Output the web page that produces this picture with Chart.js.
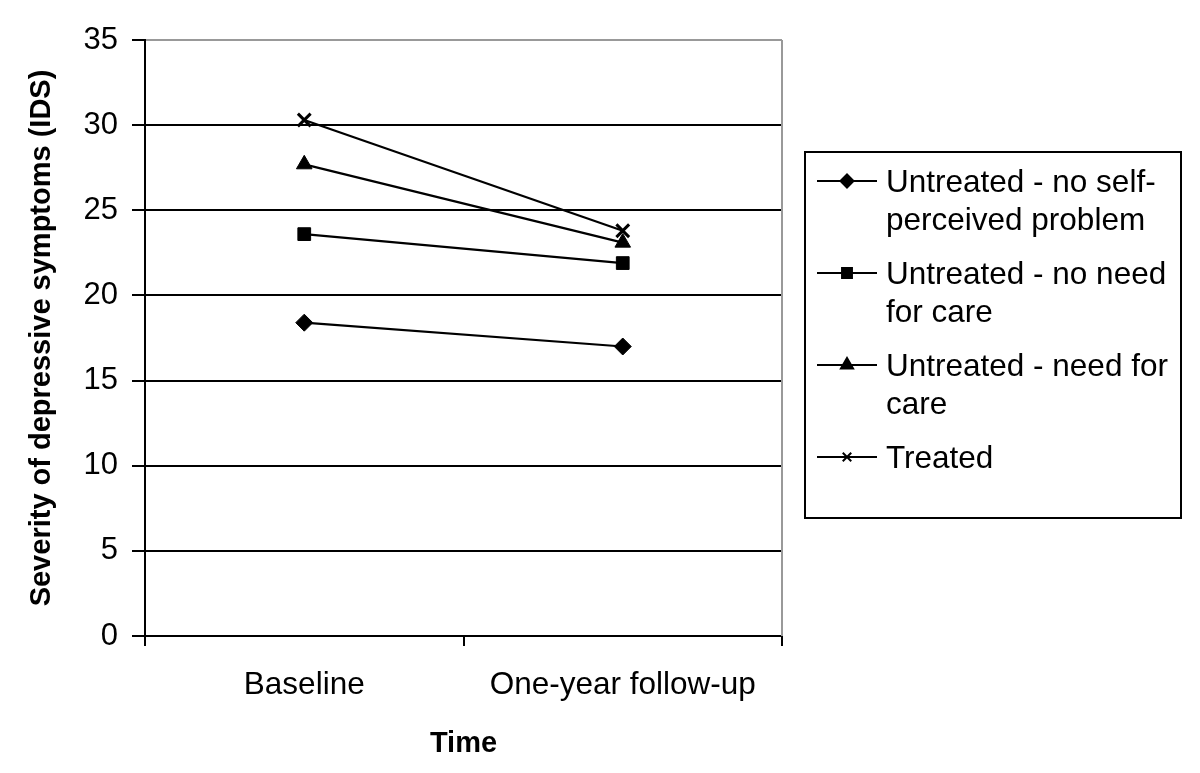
<!DOCTYPE html>
<html>
<head>
<meta charset="utf-8">
<script src="https://cdn.jsdelivr.net/npm/chart.js@4"></script>
<style>
  html, body { margin: 0; padding: 0; background: #fff; }
</style>
</head>
<body>
<canvas id="symptomChart" width="1200" height="773"></canvas>
<script>

const timepoints = ["Baseline", "One-year follow-up"];

const yTickValues = [0, 5, 10, 15, 20, 25, 30, 35];

const noSelfProblem = [18.4, 17.0];
const noNeedForCare = [23.6, 21.9];
const needForCare = [27.7, 23.1];
const treated = [30.3, 23.8];

const legendLines = [
    ["Untreated - no self-", "perceived problem"],
    ["Untreated - no need", "for care"],
    ["Untreated - need for", "care"],
    ["Treated"]
];

const FONT = "'Liberation Sans', Arial, sans-serif";


// legend in a box on the right, with wrapped labels
const boxLegend = {
    id: "boxLegend",
    afterDraw(chart) {
        const ctx = chart.ctx;
        ctx.save();

        ctx.strokeStyle = "#000";
        ctx.lineWidth = 2;
        ctx.strokeRect(805, 152, 376, 366);

        ctx.font = "31.5px " + FONT;
        ctx.textBaseline = "alphabetic";
        ctx.fillStyle = "#000";

        let y = 181;
        chart.data.datasets.forEach((ds, i) => {
            ctx.strokeStyle = "#000";
            ctx.lineWidth = 2;
            ctx.beginPath();
            ctx.moveTo(817, y);
            ctx.lineTo(877, y);
            ctx.stroke();

            Chart.helpers.drawPoint(ctx, {
                pointStyle: ds.pointStyle,
                radius: ds.legendRadius,
                borderWidth: ds.pointBorderWidth,
                rotation: 0
            }, 847, y);

            const lines = legendLines[i];
            lines.forEach((t, j) => {
                ctx.fillText(t, 886, y + 11 + j * 38);
            });
            y += lines.length * 38 + 16;
        });

        ctx.restore();
    }
};


// grey frame line on the right of the plot
const rightFrame = {
    id: "rightFrame",
    beforeDatasetsDraw(chart) {
        const { ctx, chartArea } = chart;
        ctx.save();
        ctx.strokeStyle = "#999";
        ctx.lineWidth = 2;
        ctx.beginPath();
        ctx.moveTo(chartArea.right, chartArea.top);
        ctx.lineTo(chartArea.right, chartArea.bottom);
        ctx.stroke();
        ctx.restore();
    }
};


function makeSeries(label, data, style, radius, legendRadius, pbw) {
    return {
        label: label,
        data: data,
        borderColor: "#000",
        backgroundColor: "#000",
        borderWidth: 2.2,
        pointStyle: style,
        pointRadius: radius,
        pointBorderWidth: pbw,
        pointBackgroundColor: "#000",
        pointBorderColor: "#000",
        legendRadius: legendRadius,
        tension: 0
    };
}


new Chart(document.getElementById("symptomChart"), {

    type: "line",

    data: {
        labels: timepoints,
        datasets: [
            makeSeries("Untreated - no self-perceived problem", noSelfProblem, "rectRot", 8.5, 6.5, 1),
            makeSeries("Untreated - no need for care", noNeedForCare, "rect", 9, 7, 1),
            makeSeries("Untreated - need for care", needForCare, "triangle", 9, 7, 1),
            makeSeries("Treated", treated, "crossRot", 9, 6, 3)
        ]
    },

    options: {
        responsive: false,
        animation: false,
        events: [],
        layout: {
            padding: { left: 0, top: 40, right: 418, bottom: 0 }
        },
        plugins: {
            legend: { display: false },
            tooltip: { enabled: false }
        },
        scales: {
            x: {
                type: "category",
                offset: true,
                grid: {
                    drawOnChartArea: false,
                    drawTicks: true,
                    tickLength: 10,
                    color: "#000",
                    lineWidth: 2,
                    offset: true
                },
                border: { color: "#000", width: 2 },
                ticks: {
                    color: "#000",
                    font: { size: 31.5, family: FONT },
                    padding: 20,
                    maxRotation: 0,
                    autoSkip: false
                },
                title: {
                    display: true,
                    text: "Time",
                    color: "#000",
                    font: { size: 29, weight: "bold", family: FONT },
                    padding: { top: 0, bottom: 12 }
                },
                afterFit: s => { s.height = 137; }
            },
            y: {
                min: 0,
                max: 35,
                afterBuildTicks: s => { s.ticks = yTickValues.map(v => ({ value: v })); },
                grid: {
                    color: c => (c.tick && c.tick.value === 35) ? "#999" : "#000",
                    tickColor: "#000",
                    lineWidth: 2,
                    tickLength: 13
                },
                border: { color: "#000", width: 2 },
                ticks: {
                    color: "#000",
                    font: { size: 31, family: FONT },
                    padding: 14
                },
                title: {
                    display: true,
                    text: "Severity of depressive symptoms (IDS)",
                    color: "#000",
                    font: { size: 29, weight: "bold", family: FONT },
                    padding: { top: 25, bottom: 0 }
                },
                afterFit: s => { s.width = 145; }
            }
        }
    },

    plugins: [rightFrame, boxLegend]

});

</script>
</body>
</html>
